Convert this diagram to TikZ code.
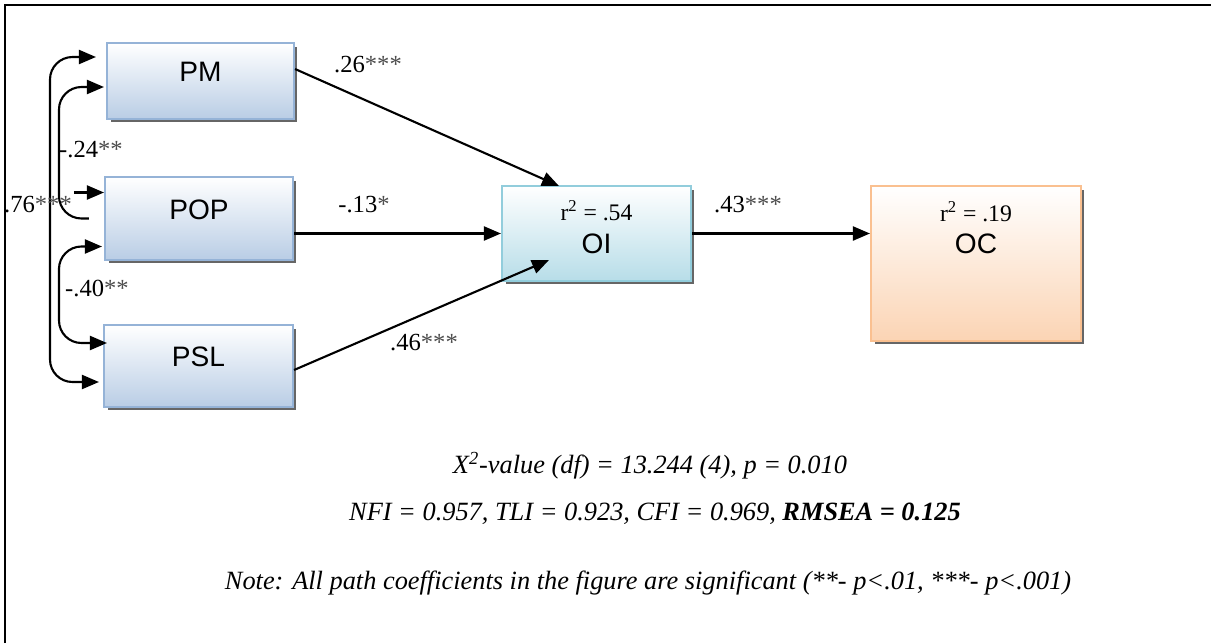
\documentclass[tikz,border=0pt]{standalone}
\usepackage{fontspec}
\setmainfont{Liberation Serif}
\newfontfamily\boxfont{Liberation Sans}
\usetikzlibrary{arrows.meta,calc,shadows,positioning}

\definecolor{pmline}{RGB}{149,179,215}
\definecolor{pmfill}{RGB}{185,205,229}
\definecolor{oiline}{RGB}{146,205,220}
\definecolor{oifill}{RGB}{183,221,232}
\definecolor{ocline}{RGB}{250,192,144}
\definecolor{ocfill}{RGB}{251,212,180}

\tikzset{
  varbox/.style={draw=pmline, line width=1.2pt, top color=white, bottom color=pmfill,
    inner sep=0pt, text depth=0.36cm,
    drop shadow={shadow xshift=0.07cm, shadow yshift=-0.07cm, fill=black!60, opacity=1},
    font=\boxfont\fontsize{16}{19}\selectfont},
  effect/.style={line width=1.2pt, ->},
  cov/.style={line width=1.2pt, rounded corners=0.45cm},
  coef/.style={font=\fontsize{14}{16}\selectfont, inner sep=0pt},
  rtext/.style={font=\fontsize{13.5}{15}\selectfont, inner sep=0pt},
  bname/.style={font=\boxfont\fontsize{16}{19}\selectfont, inner sep=0pt},
  fitline/.style={font=\itshape\fontsize{15}{18}\selectfont, inner sep=0pt}
}
\newcommand{\sig}[1]{{\color{black!70}#1}}

\begin{document}
\begin{tikzpicture}[x=0.02cm, y=-0.02cm, >={Triangle[length=0.34cm,width=0.28cm]}]
\useasboundingbox (0,0) rectangle (1211,643);
\draw[line width=1.1pt] (5,643) -- (5,5) -- (1211,5);

% observed variables
\node[varbox, minimum width=3.74cm, minimum height=1.52cm] (PM) at (200.5,81) {PM};
\node[varbox, minimum width=3.76cm, minimum height=1.66cm] (POP) at (199,218.5) {POP};
\node[varbox, minimum width=3.78cm, minimum height=1.64cm] (PSL) at (198.5,366) {PSL};
\node[varbox, draw=oiline, bottom color=oifill, minimum width=3.78cm, minimum height=1.90cm] (OI) at (596.5,233.5) {};
\node[varbox, draw=ocline, bottom color=ocfill, minimum width=4.20cm, minimum height=3.10cm] (OC) at (976,263.5) {};

\node[rtext] (OIr) at ($(OI.north)+(0,26)$) {r\textsuperscript{2} = .54};
\node[bname] (OIname) at ($(OI.north)+(0,59)$) {OI};
\node[rtext] (OCr) at ($(OC.north)+(0,27)$) {r\textsuperscript{2} = .19};
\node[bname] (OCname) at ($(OC.north)+(0,59)$) {OC};

% paths
\draw[effect] ($(PM.east)+(0,-12)$) -- ($(OI.north west)+(58,1)$);
\draw[effect] (POP.east |- OI.west) -- (OI.west);
\draw[effect] ($(PSL.east)+(0,4)$) -- ($(OI.south west)+(48,-22)$);
\draw[effect] (OI.east) -- (OC.west |- OI.east);

\node[coef] (c26) at (368,65) {.26\sig{***}};
\node[coef] (c13) at (364,205) {-.13\sig{*}};
\node[coef] (c46) at (424,343) {.46\sig{***}};
\node[coef] (c43) at (748,205) {.43\sig{***}};

% correlations
\coordinate (pm76) at ($(PM.west)+(-10,-24)$);
\coordinate (psl76) at ($(PSL.west)+(-4,16)$);
\coordinate (l76) at (50,220);
\draw[cov, <->] (pm76) -| (l76) |- (psl76);

\coordinate (pm24) at ($(PM.west)+(-2,6)$);
\coordinate (pop24) at ($(POP.west)+(-15,0)$);
\coordinate (l24) at (59,150);
\draw[cov, <-] (pm24) -| (l24) |- (pop24);
\draw[effect] ($(POP.west)+(-30,-26)$) -- ($(POP.west)+(0,-26)$);

\coordinate (pop40) at ($(POP.west)+(-2,28)$);
\coordinate (psl40) at ($(PSL.west)+(4,-23)$);
\coordinate (l40) at (59,290);
\draw[cov, <->] (pop40) -| (l40) |- (psl40);

\node[coef] (c76) at (38,205) {.76\sig{***}};
\node[coef] (c24) at (91,150) {-.24\sig{**}};
\node[coef] (c40) at (97,288) {-.40\sig{**}};

% fit
\node[fitline] (chi) at (650,466) {X\textsuperscript{2}-value (df) = 13.244 (4), p = 0.010};
\node[fitline] (fit) at (655,514) {NFI = 0.957, TLI = 0.923, CFI = 0.969, \textbf{RMSEA = 0.125}};
\node[fitline] (note) at (648,583) {Note: All path coefficients in the figure are significant (**- p<.01, ***- p<.001)};
\end{tikzpicture}
\end{document}
